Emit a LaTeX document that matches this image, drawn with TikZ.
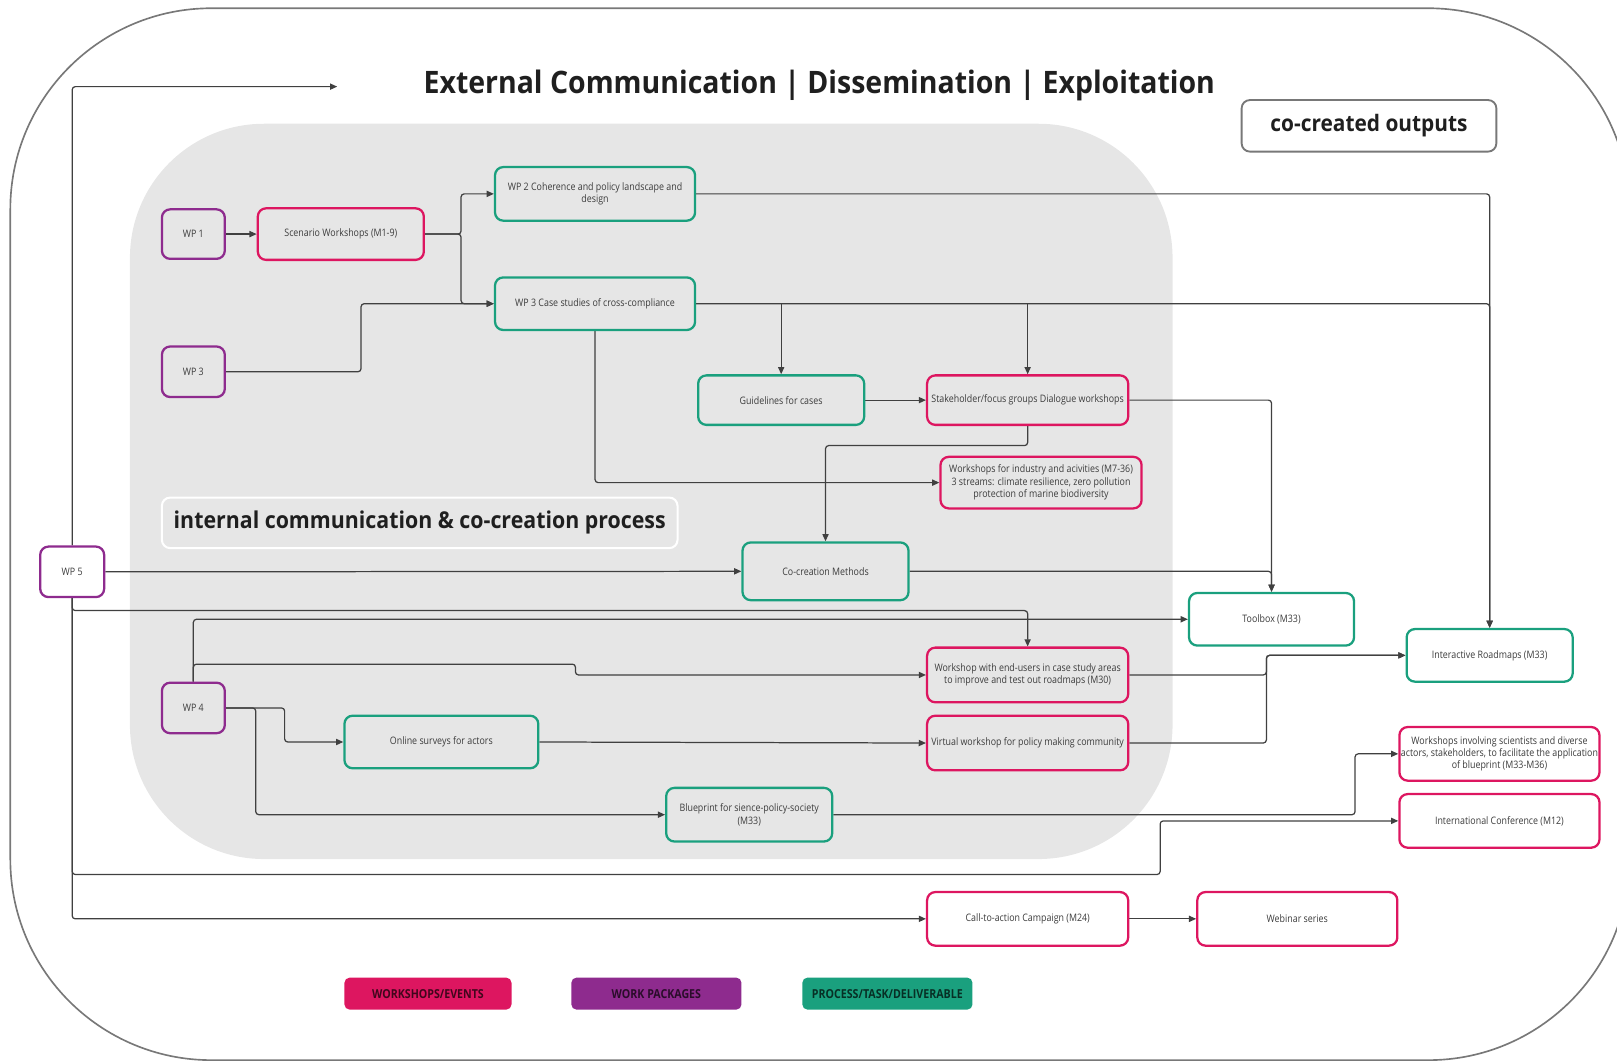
\documentclass[tikz,border=0pt]{standalone}
\usepackage{fontspec}
\setmainfont{Open Sans}
\newfontfamily\boxfont[FakeStretch=0.86]{Open Sans}
\newfontfamily\headfont[FakeStretch=0.92]{Open Sans}
\usetikzlibrary{arrows.meta}

\definecolor{evpink}{RGB}{221,22,96}
\definecolor{wppurple}{RGB}{142,43,142}
\definecolor{prteal}{RGB}{26,160,126}
\definecolor{zonegray}{RGB}{230,230,230}
\definecolor{wire}{RGB}{64,64,64}
\definecolor{framegray}{RGB}{120,120,120}
\definecolor{txt}{RGB}{60,60,60}

\pgfdeclarelayer{bg}
\pgfdeclarelayer{wires}
\pgfsetlayers{bg,wires,main}

\tikzset{
  sz/.style 2 args={minimum width=#1pt, minimum height=#2pt},
  card/.style={draw, rounded corners=8pt, line width=2.2pt, align=center,
    font=\boxfont\fontsize{10}{12}\selectfont, text=txt, inner sep=1pt},
  event/.style={card, draw=evpink},
  wpk/.style={card, draw=wppurple},
  task/.style={card, draw=prteal},
  inzone/.style={fill=zonegray},
  outzone/.style={fill=white},
  conn/.style={draw=wire, line width=1.2pt, rounded corners=3pt,
    -{Triangle[length=7pt,width=6pt]}},
  legendkey/.style={rounded corners=5pt, sz={#1}{31}, inner sep=0pt,
    font=\boxfont\bfseries\fontsize{12}{13}\selectfont, text=black, text opacity=0.7},
  heading/.style={font=\headfont\bfseries\fontsize{#1}{#1}\selectfont, text=black!88}
}

\begin{document}
\begin{tikzpicture}[x=1pt, y=-1pt]
\useasboundingbox (0,0) rectangle (1568,1030);

% outer frame and the inner working zone
\begin{pgfonlayer}{bg}
  \draw[framegray, line width=1.6pt, rounded corners=195pt] (10,8) rectangle (1580,1028);
  \fill[zonegray, rounded corners=130pt] (126,120) rectangle (1137,833);
\end{pgfonlayer}

% headings
\node[heading=30] (title) at (794.5,83) {External Communication | Dissemination | Exploitation};
\node[heading=22, draw=framegray, line width=1.8pt, rounded corners=8pt, fill=white, sz={247}{50}]
  (outputs) at (1327.5,122) {co-created outputs};
\node[heading=22.5, draw=white, line width=2pt, rounded corners=8pt, fill=zonegray, sz={500}{49}]
  (inner) at (407,507) {internal communication \& co-creation process};

% work packages
\node[wpk, inzone, sz={61}{48}] (wp1) at (187.5,227) {WP 1};
\node[wpk, inzone, sz={61}{49}] (wp3) at (187.5,360.5) {WP 3};
\node[wpk, outzone, sz={62}{49}] (wp5) at (70,554.5) {WP 5};
\node[wpk, inzone, sz={61}{49}] (wp4) at (187.5,686.5) {WP 4};

% processes, tasks and deliverables
\node[task, inzone, sz={194}{52}] (wp2) at (577,188) {WP 2 Coherence and policy landscape and\\design};
\node[task, inzone, sz={194}{51}] (wp3c) at (577,294.5) {WP 3 Case studies of cross-compliance};
\node[task, inzone, sz={161}{48}] (guide) at (757.5,388) {Guidelines for cases};
\node[task, inzone, sz={161}{56}] (cocreate) at (800.5,554) {Co-creation Methods};
\node[task, inzone, sz={188}{51}] (survey) at (428,719.5) {Online surveys for actors};
\node[task, inzone, sz={161}{52}] (blue) at (726.5,790) {Blueprint for sience-policy-society\\(M33)};
\node[task, outzone, sz={160}{51}] (toolbox) at (1233,600.5) {Toolbox (M33)};
\node[task, outzone, sz={161}{51}] (roadmap) at (1444.5,635.5) {Interactive Roadmaps (M33)};

% workshops and events
\node[event, inzone, sz={161}{50}] (scen) at (330.5,227) {Scenario Workshops (M1-9)};
\node[event, inzone, sz={195}{48}] (stake) at (996.5,388) {Stakeholder/focus groups Dialogue workshops};
\node[event, inzone, sz={195}{50}] (industry) at (1009.5,468)
  {Workshops for industry and acivities (M7-36)\\3 streams: climate resilience, zero pollution\\protection of marine biodiversity};
\node[event, inzone, sz={195}{53}] (endusers) at (996.5,654.5)
  {Workshop with end-users in case study areas\\to improve and test out roadmaps (M30)};
\node[event, inzone, sz={195}{53}] (virtual) at (996.5,720.5) {Virtual workshop for policy making community};
\node[event, outzone, sz={194}{52}] (sciws) at (1454,731)
  {Workshops involving scientists and diverse\\actors, stakeholders, to facilitate the application\\of blueprint (M33-M36)};
\node[event, outzone, sz={194}{52}] (conf) at (1454,796) {International Conference (M12)};
\node[event, outzone, sz={195}{52}] (cta) at (996.5,891) {Call-to-action Campaign (M24)};
\node[event, outzone, sz={194}{52}] (webinar) at (1258,891) {Webinar series};

% legend
\node[legendkey=162, fill=evpink] (keyev) at (415,963.5) {WORKSHOPS/EVENTS};
\node[legendkey=165, fill=wppurple] (keywp) at (636.5,963.5) {WORK PACKAGES};
\node[legendkey=165, fill=prteal] (keypr) at (860.5,963.5) {PROCESS/TASK/DELIVERABLE};

\coordinate (extout) at (327,84);

% connectors
\begin{pgfonlayer}{wires}
  % WP 5 spine
  \draw[conn] (wp5.north) |- (extout);
  \draw[conn] (wp5.south) |- (cta.west);
  \draw[conn] (wp5.south) -- ++(0,12) -| (endusers.north);
  \draw[conn] (wp5.south) |- (1125,848) |- (conf.west);
  \draw[conn] (wp5.east) -- (cocreate.west);

  % upper chain
  \draw[conn] (wp1.east) -- (scen.west);
  \draw[conn] (scen.east) -- ++(35,0) |- (wp2.west);
  \draw[conn] (scen.east) -- ++(35,0) |- (wp3c.west);
  \draw[conn] (wp3.east) -- ++(131,0) |- (wp3c.west);
  \draw[conn] (wp2.east) -| (roadmap.north);
  \draw[conn] (wp3c.east) -| (roadmap.north);
  \draw[conn] (guide.north |- wp3c.east) -- (guide.north);
  \draw[conn] (stake.north |- wp3c.east) -- (stake.north);
  \draw[conn] (wp3c.south) |- (industry.west);
  \draw[conn] (guide.east) -- (stake.west);
  \draw[conn] (stake.east) -| (toolbox.north);
  \draw[conn] (stake.south) -- ++(0,19) -| (cocreate.north);
  \draw[conn] (cocreate.east) -| (toolbox.north);

  % WP 4 branches
  \draw[conn] (wp4.north) |- (toolbox.west);
  \draw[conn] (wp4.north) |- (558,644) |- (endusers.west);
  \draw[conn] (wp4.east) -- (276,686.5) |- (survey.west);
  \draw[conn] (wp4.east) -- (248,686.5) |- (blue.west);
  \draw[conn] (survey.east) -- (virtual.west);

  % towards the outputs
  \draw[conn] (endusers.east) -- (1228,654.5) |- (roadmap.west);
  \draw[conn] (virtual.east) -- (1228,720.5) |- (roadmap.west);
  \draw[conn] (blue.east) -- (1314,790) |- (sciws.west);
  \draw[conn] (cta.east) -- (webinar.west);
\end{pgfonlayer}
\end{tikzpicture}
\end{document}
